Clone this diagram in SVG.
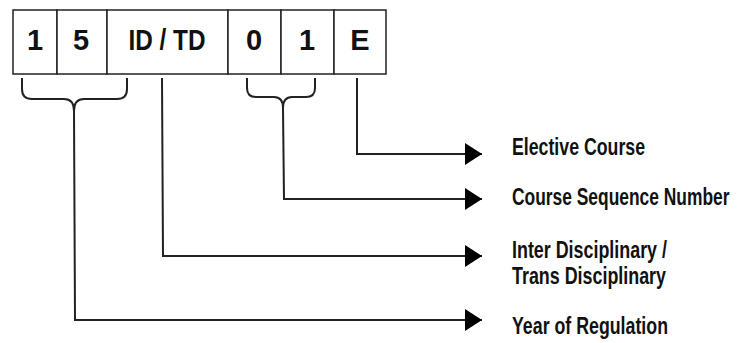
<svg xmlns="http://www.w3.org/2000/svg" width="737" height="343" viewBox="0 0 737 343">
<style>
.box{fill:#fff;stroke:#222;stroke-width:1.5}
.bt{font-family:"Liberation Sans",Arial,sans-serif;font-weight:bold;font-size:29px;fill:#111;text-anchor:middle}
.ln{fill:none;stroke:#222;stroke-width:2}
.lb{font-family:"Liberation Sans",Arial,sans-serif;font-weight:bold;font-size:24px;fill:#111}
</style>
<defs>
<marker id="ah" markerUnits="userSpaceOnUse" markerWidth="18" markerHeight="24" refX="17" refY="11" orient="auto">
<path d="M0,0 L17,11 L0,22 Z" fill="#000"/>
</marker>
</defs>
<rect x="0" y="0" width="737" height="343" fill="#fff"/>
<g id="box-1"><rect class="box" x="13" y="10" width="44" height="64"/><text class="bt" x="35" y="50">1</text></g>
<g id="box-5"><rect class="box" x="57" y="10" width="50" height="64"/><text class="bt" x="81" y="50">5</text></g>
<g id="box-idtd"><rect class="box" x="107" y="10" width="121" height="64"/><text class="bt" x="167" y="50" textLength="77" lengthAdjust="spacingAndGlyphs">ID / TD</text></g>
<g id="box-0"><rect class="box" x="228" y="10" width="53" height="64"/><text class="bt" x="254" y="50">0</text></g>
<g id="box-1b"><rect class="box" x="281" y="10" width="53" height="64"/><text class="bt" x="307" y="50">1</text></g>
<g id="box-e"><rect class="box" x="334" y="10" width="52" height="64"/><text class="bt" x="360" y="50">E</text></g>
<g id="connectors">
<path class="ln" d="M22,78 L22,89 Q22,99 32,99 L64,99 Q74,99 74,111 Q74,99 84,99 L117,99 Q127,99 127,89 L127,78"/>
<path class="ln" d="M247,78 L247,88 Q247,97 256,97 L274,97 Q283,97 283,108 Q283,97 292,97 L306,97 Q315,97 315,88 L315,78"/>
<path class="ln" d="M357,78 L357,154 L482,154" marker-end="url(#ah)"/>
<path class="ln" d="M283,108 L284,199 L482,199" marker-end="url(#ah)"/>
<path class="ln" d="M162,78 L163,256 L482,256" marker-end="url(#ah)"/>
<path class="ln" d="M74,111 L75,320 L482,320" marker-end="url(#ah)"/>
</g>
<g id="label-elective"><text class="lb" x="512" y="155" textLength="133" lengthAdjust="spacingAndGlyphs">Elective Course</text></g>
<g id="label-seq"><text class="lb" transform="translate(512,205) scale(0.725,1)" x="0" y="0">Course Sequence Number</text></g>
<g id="label-idtd"><text class="lb" x="512" y="258" textLength="155" lengthAdjust="spacingAndGlyphs">Inter Disciplinary /</text><text class="lb" x="512" y="284" textLength="154" lengthAdjust="spacingAndGlyphs">Trans Disciplinary</text></g>
<g id="label-year"><text class="lb" x="512" y="334" textLength="156" lengthAdjust="spacingAndGlyphs">Year of Regulation</text></g>
</svg>
